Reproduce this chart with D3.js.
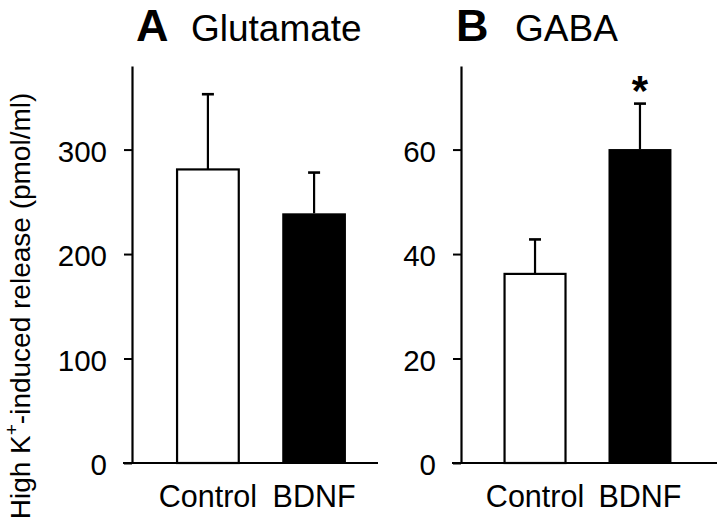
<!DOCTYPE html>
<html>
<head>
<meta charset="utf-8">
<script src="https://cdn.jsdelivr.net/npm/d3@7"></script>
<style>
  html, body { margin: 0; padding: 0; background: #fff; }
  svg { display: block; font-family: "Liberation Sans", Arial, Helvetica, sans-serif; }
</style>
</head>
<body>
<svg id="chart" width="720" height="521"></svg>
<script>
// ---- data ----
const categories = ["Control", "BDNF"];
const glutamateMeans = [281, 239];
const glutamateErrors = [72, 39];
const gabaMeans = [36.2, 60.1];
const gabaErrors = [6.6, 8.7];
const glutamateTicks = [0, 100, 200, 300];
const gabaTicks = [0, 20, 40, 60];
const gabaSignificance = ["", "*"];
const barFills = ["#ffffff", "#000000"];
const panelLetters = ["A", "B"];
const panelTitles = ["Glutamate", "GABA"];
const yAxisTitle = "High K";

const svg = d3.select("#chart");
const yBottom = 463, yTop = 66;

const panels = [
  { letter: panelLetters[0], title: panelTitles[0], means: glutamateMeans, errors: glutamateErrors,
    ticks: glutamateTicks, max: 380, axisX: 132, xRange: [132, 390], baseEnd: 378, sig: ["", ""],
    letterX: 136, titleX: 191 },
  { letter: panelLetters[1], title: panelTitles[1], means: gabaMeans, errors: gabaErrors,
    ticks: gabaTicks, max: 76, axisX: 461, xRange: [460, 715], baseEnd: 717, sig: gabaSignificance,
    letterX: 456, titleX: 515 }
];

panels.forEach(p => {
  const y = d3.scaleLinear().domain([0, p.max]).range([yBottom, yTop]);
  const x = d3.scaleBand().domain(categories).range(p.xRange).paddingInner(0.4).paddingOuter(0.415);
  const g = svg.append("g");

  // y axis
  const yAxis = d3.axisLeft(y).tickValues(p.ticks).tickSize(8).tickSizeOuter(0).tickPadding(17)
    .tickFormat(d3.format("d"));
  const ya = g.append("g").attr("transform", `translate(${p.axisX},0)`).call(yAxis);
  ya.select(".domain").attr("stroke", "#000").attr("stroke-width", 2.2);
  ya.selectAll(".tick line").attr("stroke", "#000").attr("stroke-width", 2);
  ya.selectAll(".tick text").attr("font-size", 29.5).attr("fill", "#000").attr("dy", "0.39em")
    .attr("font-family", "'Liberation Sans', Arial, sans-serif");

  // bars
  const data = categories.map((c, i) => ({ c, m: p.means[i], e: p.errors[i], fill: barFills[i], sig: p.sig[i] }));
  // error bars (upward only)
  data.forEach(d => {
    const cx = x(d.c) + x.bandwidth() / 2;
    g.append("line").attr("x1", cx).attr("x2", cx).attr("y1", y(d.m)).attr("y2", y(d.m + d.e))
      .attr("stroke", "#000").attr("stroke-width", 2.2);
    g.append("line").attr("x1", cx - 6).attr("x2", cx + 6).attr("y1", y(d.m + d.e)).attr("y2", y(d.m + d.e))
      .attr("stroke", "#000").attr("stroke-width", 2.6);
    if (d.sig) {
      g.append("text").attr("x", cx).attr("y", y(d.m + d.e) + 1).attr("text-anchor", "middle")
        .attr("font-size", 42).attr("font-weight", "bold").text(d.sig);
    }
  });
  g.selectAll("rect.bar").data(data).enter().append("rect").attr("class", "bar")
    .attr("x", d => x(d.c) + (d.fill === "#ffffff" ? 1 : 0))
    .attr("width", d => x.bandwidth() - (d.fill === "#ffffff" ? 2 : 0))
    .attr("y", d => y(d.m))
    .attr("height", d => y(0) - y(d.m))
    .attr("fill", d => d.fill)
    .attr("stroke", "#000").attr("stroke-width", d => d.fill === "#ffffff" ? 2.2 : 0);

  // baseline
  g.append("line").attr("x1", p.axisX - 9).attr("x2", p.baseEnd).attr("y1", yBottom).attr("y2", yBottom)
    .attr("stroke", "#000").attr("stroke-width", 2.2);

  // category labels
  const xAxis = d3.axisBottom(x).tickSize(0).tickSizeOuter(0).tickPadding(22);
  const xa = g.append("g").attr("transform", `translate(0,${yBottom})`).call(xAxis);
  xa.select(".domain").remove();
  xa.selectAll(".tick text").attr("font-size", 30.5).attr("fill", "#000")
    .attr("font-family", "'Liberation Sans', Arial, sans-serif");

  // titles
  g.append("text").attr("x", p.letterX).attr("y", 41).attr("font-size", 45).attr("font-weight", "bold")
    .text(p.letter);
  g.append("text").attr("x", p.titleX).attr("y", 41).attr("font-size", 37).text(p.title);
});

// y axis title
const yt = svg.append("text").attr("transform", "translate(30,306) rotate(-90)")
  .attr("text-anchor", "middle").attr("font-size", 28);
yt.append("tspan").text(yAxisTitle);
yt.append("tspan").attr("font-size", 19).attr("dy", -12).text("+");
yt.append("tspan").attr("dy", 12).text("-induced release (pmol/ml)");
</script>
</body>
</html>
